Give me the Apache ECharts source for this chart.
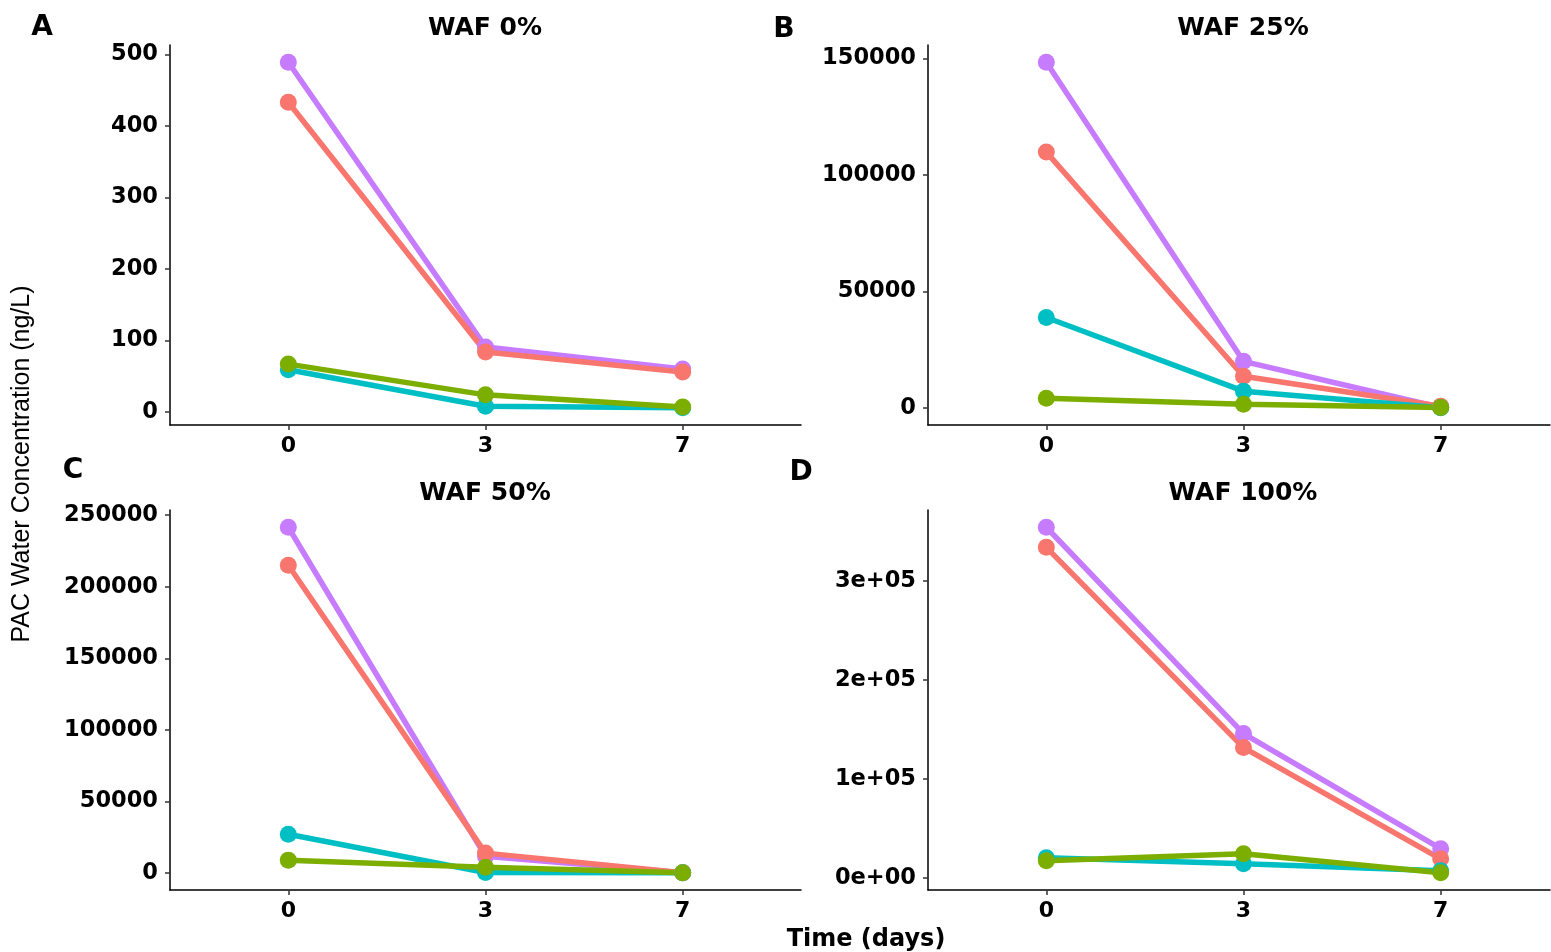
<!DOCTYPE html>
<html><head><meta charset="utf-8">
<script src="https://cdn.jsdelivr.net/npm/echarts@6/dist/echarts.min.js"></script>
<style>html,body{margin:0;padding:0;background:#fff}#c{width:1551px;height:952px}</style>
</head><body><div id="c"></div>
<script>
// ---- data ----
const days = ['0', '3', '7'];
const groupNames = ['Group 4', 'Group 1', 'Group 3', 'Group 2'];
const groupColors = ['#C77CFF', '#F8766D', '#00BFC4', '#7CAE00'];
const panelTitles = ['WAF 0%', 'WAF 25%', 'WAF 50%', 'WAF 100%'];
const panelLetters = ['A', 'B', 'C', 'D'];

const waf0_purple = [489, 91, 60];
const waf0_red    = [433, 84, 56];
const waf0_teal   = [59, 8, 6];
const waf0_green  = [67, 24, 7];

const waf25_purple = [148300, 20100, 300];
const waf25_red    = [109800, 13700, 800];
const waf25_teal   = [38900, 7300, 200];
const waf25_green  = [4300, 1700, 300];

const waf50_purple = [241600, 11800, 300];
const waf50_red    = [215100, 14000, 300];
const waf50_teal   = [27200, 500, 300];
const waf50_green  = [9100, 4200, 300];

const waf100_purple = [354600, 145900, 29400];
const waf100_red    = [334300, 131700, 19200];
const waf100_teal   = [20300, 14200, 7100];
const waf100_green  = [17200, 24300, 5100];

const yTicksA = [0, 100, 200, 300, 400, 500];
const yTicksB = [0, 50000, 100000, 150000];
const yTicksC = [0, 50000, 100000, 150000, 200000, 250000];
const yTicksD = [0, 100000, 200000, 300000];
const yLabelsA = ['0', '100', '200', '300', '400', '500'];
const yLabelsB = ['0', '50000', '100000', '150000'];
const yLabelsC = ['0', '50000', '100000', '150000', '200000', '250000'];
const yLabelsD = ['0e+00', '1e+05', '2e+05', '3e+05'];

// ---- assembly ----
const panelData = [
  [waf0_purple, waf0_red, waf0_teal, waf0_green],
  [waf25_purple, waf25_red, waf25_teal, waf25_green],
  [waf50_purple, waf50_red, waf50_teal, waf50_green],
  [waf100_purple, waf100_red, waf100_teal, waf100_green]
];
const panelTicks = [yTicksA, yTicksB, yTicksC, yTicksD];
const panelTickLabels = [yLabelsA, yLabelsB, yLabelsC, yLabelsD];

const FULLW = 631, GH = 380;
const layout = [
  {left: 170, top: 45, width: 631},
  {left: 928, top: 45, width: 622},
  {left: 170, top: 510, width: 631},
  {left: 928, top: 510, width: 622}
];
const titlePos = [[485, 16], [1243, 16], [485, 481], [1243, 481]];
const letterPos = [[42, 14], [784, 16], [73, 457], [801, 459]];

const FONT = 'DejaVu Sans';
const grids = [], xAxes = [], yAxes = [], series = [], titles = [];

panelData.forEach((groups, p) => {
  const L = layout[p];
  grids.push({left: L.left, top: L.top, width: L.width, height: GH, containLabel: false});
  const xIdx = days.map((d, i) => i + 1);
  const xmax = 0.4 + 3.2 * L.width / FULLW;
  xAxes.push({
    type: 'value', gridIndex: p, min: 0.4, max: xmax,
    axisLine: {show: true, onZero: false, lineStyle: {color: '#000', width: 1.5}},
    axisTick: {show: true, length: 5, customValues: xIdx, lineStyle: {color: '#333', width: 1.5}},
    axisLabel: {customValues: xIdx, formatter: v => days[Math.round(v) - 1], margin: 10,
      color: '#000', fontFamily: FONT, fontWeight: 'bold', fontSize: 22},
    splitLine: {show: false}
  });
  let all = [];
  groups.forEach(g => all = all.concat(g));
  const lo = Math.min(...all), hi = Math.max(...all), r = hi - lo;
  const ticks = panelTicks[p], labs = panelTickLabels[p];
  yAxes.push({
    type: 'value', gridIndex: p, min: lo - 0.05 * r, max: hi + 0.05 * r,
    axisLine: {show: true, onZero: false, lineStyle: {color: '#000', width: 1.5}},
    axisTick: {show: true, length: 5, customValues: ticks, lineStyle: {color: '#333', width: 1.5}},
    axisLabel: {customValues: ticks, formatter: v => { const k = ticks.indexOf(v); return k >= 0 ? labs[k] : ''; },
      margin: 12, padding: [4, 0, 0, 0], color: '#000', fontFamily: FONT, fontWeight: 'bold', fontSize: 22.5},
    splitLine: {show: false}
  });
  groups.forEach((vals, g) => {
    const pts = vals.map((v, i) => [xIdx[i], v]);
    series.push({
      type: 'line', xAxisIndex: p, yAxisIndex: p, name: groupNames[g], data: pts,
      showSymbol: false, symbol: 'none', z: 2 + g * 0.01,
      lineStyle: {color: groupColors[g], width: 5.5}, itemStyle: {color: groupColors[g]}, silent: true
    });
  });
  groups.forEach((vals, g) => {
    const pts = vals.map((v, i) => [xIdx[i], v]);
    series.push({
      type: 'scatter', xAxisIndex: p, yAxisIndex: p, name: groupNames[g], data: pts,
      symbol: 'circle', symbolSize: 17, z: 3 + g * 0.01,
      itemStyle: {color: groupColors[g], opacity: 1}, silent: true
    });
  });
  titles.push({text: panelTitles[p], left: titlePos[p][0], top: titlePos[p][1], textAlign: 'center', padding: 0,
    textStyle: {fontFamily: FONT, fontWeight: 'bold', fontSize: 25, color: '#000'}});
  titles.push({text: panelLetters[p], left: letterPos[p][0], top: letterPos[p][1], textAlign: 'center', padding: 0,
    textStyle: {fontFamily: FONT, fontWeight: 'bold', fontSize: 28, color: '#000'}});
});

titles.push({text: 'Time (days)', left: 866, top: 928, textAlign: 'center', padding: 0,
  textStyle: {fontFamily: FONT, fontWeight: 'bold', fontSize: 24, color: '#000'}});

const chart = echarts.init(document.getElementById('c'), null, {renderer: 'canvas'});
chart.setOption({
  animation: false,
  backgroundColor: '#fff',
  title: titles,
  grid: grids, xAxis: xAxes, yAxis: yAxes, series: series,
  graphic: [{
    type: 'text', x: 22, y: 464, rotation: Math.PI / 2,
    style: {text: 'PAC Water Concentration (ng/L)', fill: '#000', font: '25px "Liberation Sans"',
      align: 'center', verticalAlign: 'middle'}
  }]
});
</script></body></html>
